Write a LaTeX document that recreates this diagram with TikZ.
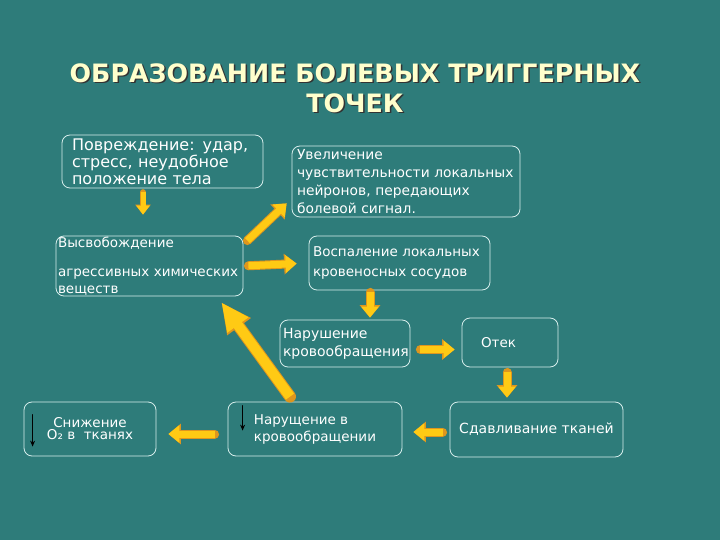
\documentclass[tikz,border=0pt]{standalone}
\usepackage{fontspec}
\setmainfont{DejaVu Sans}
\usetikzlibrary{arrows.meta}
\definecolor{bg}{RGB}{46,124,122}
\definecolor{boxline}{RGB}{215,238,236}
\definecolor{arrowyellow}{RGB}{255,202,20}
\definecolor{arrowedge}{RGB}{222,150,30}
\definecolor{titlecol}{RGB}{255,255,204}

\begin{document}
\begin{tikzpicture}[
  x=1pt, y=-1pt,
  line cap=round, line join=round,
  box/.style={draw=boxline, line width=0.8pt, rounded corners=8pt, text=white,
    font=\fontsize{13.5}{17}\selectfont, align=left, inner ysep=0pt},
  blk/.style={draw=arrowyellow, line width=7pt, line cap=butt,
    -{Triangle[length=11pt,width=17pt]},
    preaction={draw=arrowedge, line width=9pt, -{Triangle[length=12.5pt,width=20pt]}}},
  blkthin/.style={draw=arrowyellow, line width=5pt, line cap=butt,
    -{Triangle[length=9pt,width=13pt]},
    preaction={draw=arrowedge, line width=6.5pt, -{Triangle[length=10pt,width=15pt]}}},
  blkbig/.style={draw=arrowyellow, line width=10pt, line cap=butt,
    -{Triangle[length=28pt,width=24pt]},
    preaction={draw=arrowedge, line width=12pt, -{Triangle[length=30pt,width=27pt]}}},
  dn/.style={draw=black, line width=1.2pt, -{Stealth[length=6pt,width=5pt]}},
  heading/.style={font=\fontsize{25.3}{30}\bfseries\selectfont, align=center}
]
  % background
  \fill[bg] (0,0) rectangle (720,540);
  \useasboundingbox (0,0) rectangle (720,540);

  % title
  \node[heading, text=black!80] (titleshadow) at (356.5,89.5)
    {ОБРАЗОВАНИЕ БОЛЕВЫХ ТРИГГЕРНЫХ\\ТОЧЕК};
  \node[heading, text=titlecol] (title) at (355,88)
    {ОБРАЗОВАНИЕ БОЛЕВЫХ ТРИГГЕРНЫХ\\ТОЧЕК};

  % boxes
  \node[box, inner xsep=10pt, text width=181pt, minimum height=53pt,
    font=\fontsize{16}{17}\selectfont] (pov) at (162.5,161.5)
    {Повреждение: удар,\\стресс, неудобное\\положение тела};
  \node[box, inner xsep=2pt, text width=183pt, minimum height=60pt] (vys) at (149.5,266)
    {Высвобождение\\[12pt]агрессивных химических\\веществ};
  \node[box, inner xsep=5pt, text width=218pt, minimum height=71pt,
    font=\fontsize{13.8}{18}\selectfont] (uvel) at (406,181.5)
    {Увеличение\\чувствительности локальных\\нейронов, передающих\\болевой сигнал.};
  \node[box, inner xsep=4pt, text width=173pt, minimum height=54pt,
    font=\fontsize{13.5}{20}\selectfont] (vosp) at (399.5,263)
    {Воспаление локальных\\кровеносных сосудов};
  \node[box, inner xsep=3pt, text width=124pt, minimum height=47pt,
    font=\fontsize{14}{18}\selectfont] (narone) at (345,343.5)
    {Нарушение\\кровообращения};
  \node[box, inner xsep=19pt, text width=58pt, minimum height=49pt] (otek) at (510,342.5)
    {Отек};
  \node[box, align=center, minimum width=173pt, minimum height=55pt,
    font=\fontsize{14}{17}\selectfont] (sdav) at (536.5,429.5)
    {Сдавливание тканей};
  \node[box, minimum width=174pt, minimum height=54pt] (nartwo) at (315,429)
    {Нарущение в\\кровообращении};
  \node[box, align=center, minimum width=132pt, minimum height=54pt,
    font=\fontsize{13.5}{12}\selectfont] (sniz) at (90,429)
    {Снижение\\O₂ в\ \ тканях};

  % black down arrows inside boxes
  \draw[dn] ([xshift=15pt,yshift=-4pt]nartwo.north west) -- ++(0,25);
  \draw[dn] ([xshift=9pt,yshift=-13pt]sniz.north west) -- ++(0,32);

  % yellow arrows
  \draw[blkthin, shorten <=4pt, shorten >=21pt] ([xshift=-19.5pt]pov.south) -- ([xshift=-19.5pt]pov.south |- vys.north);
  \draw[blk] ([xshift=4pt,yshift=-5pt]vys.north east) -- ([xshift=-5pt,yshift=14pt]uvel.south west);
  \draw[blk, shorten <=5pt, shorten >=12pt] (vys.east) -- (vosp.west);
  \draw[blk, shorten <=2pt, shorten >=2pt] ([xshift=-29.5pt]vosp.south) -- ([xshift=-29.5pt]vosp.south |- narone.north);
  \draw[blk, shorten <=10pt, shorten >=7pt] ([yshift=-6pt]narone.east) -- ([yshift=-7pt]otek.west);
  \draw[blk, shorten <=5pt, shorten >=4pt] ([xshift=-3pt]otek.south) -- ([xshift=-3pt]otek.south |- sdav.north);
  \draw[blk, shorten <=7pt, shorten >=11pt] ([yshift=-2.5pt]sdav.west) -- ([yshift=-3pt]nartwo.east);
  \draw[blk, shorten <=13pt, shorten >=12pt] ([yshift=-5pt]nartwo.west) -- ([yshift=-5pt]sniz.east);
  \draw[blkbig] ([xshift=-25pt,yshift=5pt]nartwo.north) -- ([xshift=-22pt,yshift=-6pt]vys.south east);
\end{tikzpicture}
\end{document}
